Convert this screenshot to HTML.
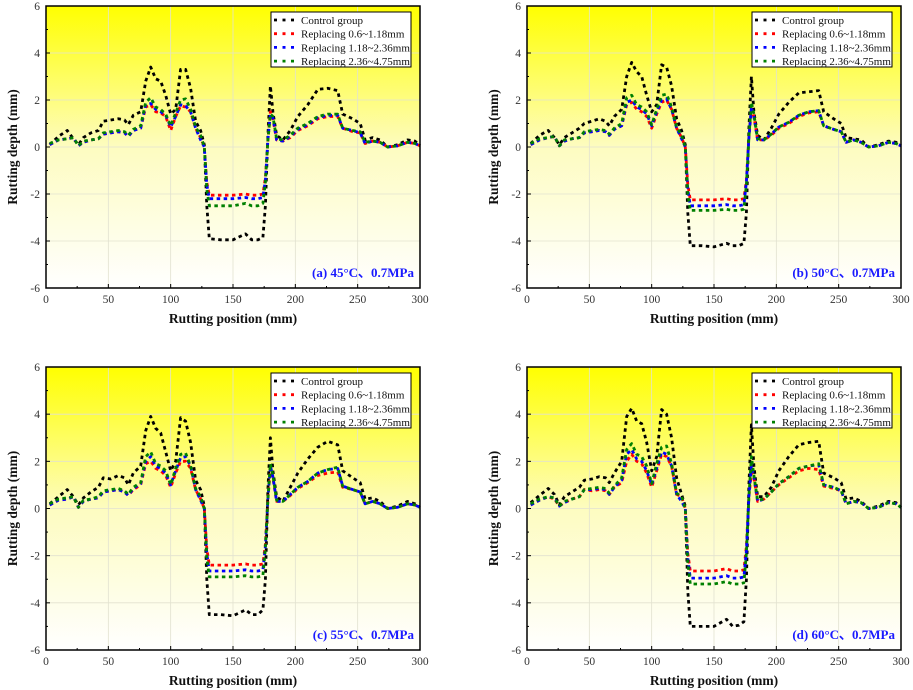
<!DOCTYPE html>
<html><head><meta charset="utf-8">
<style>
html,body{margin:0;padding:0;background:#fff;}
svg{display:block;font-family:"Liberation Serif",serif;}
</style></head>
<body>
<svg id="chart" width="913" height="690" viewBox="0 0 913 690" xmlns="http://www.w3.org/2000/svg">
<defs>
<linearGradient id="bg" x1="0" y1="0" x2="0" y2="1">
<stop offset="0" stop-color="#ffff00"/>
<stop offset="0.5" stop-color="#fdfcc0"/>
<stop offset="1" stop-color="#ffffff"/>
</linearGradient>
</defs>
</svg>
<script>
const positions=[3,10,17,22,26,30,36,42,46,52,58,63,66,70,76,80,84,88,92,96,100,104,108,112,116,120,124,127,129,131,140,150,160,165,170,174,176,178,180,182,185,190,196,202,210,218,226,234,238,246,252,256,262,268,274,282,290,296,300];
const seriesNames=["Control group","Replacing 0.6~1.18mm","Replacing 1.18~2.36mm","Replacing 2.36~4.75mm"];
const xTicks=[0,50,100,150,200,250,300];
const yTicks=[-6,-4,-2,0,2,4,6];
const panelLabels=["(a) 45°C、0.7MPa","(b) 50°C、0.7MPa","(c) 55°C、0.7MPa","(d) 60°C、0.7MPa"];
const ctrlA=[0.1,0.45,0.7,0.35,0.1,0.4,0.6,0.7,1.1,1.15,1.2,1.15,0.95,1.35,1.5,2.8,3.4,2.9,2.8,2.2,1.4,1.6,3.3,3.3,2.5,1.1,0.7,0.1,-2.5,-3.9,-3.95,-3.95,-3.7,-3.95,-3.95,-3.85,-2.5,0.5,2.6,1.5,0.5,0.3,0.7,1.3,1.8,2.45,2.5,2.4,1.4,1.2,1.0,0.3,0.4,0.3,0.0,0.1,0.3,0.25,0.05];
const redA=[0.1,0.3,0.35,0.4,0.05,0.2,0.3,0.35,0.55,0.6,0.65,0.6,0.45,0.7,0.8,1.7,1.8,1.5,1.45,1.3,0.7,1.3,1.75,1.7,1.5,0.8,0.4,0,-1.5,-2.05,-2.05,-2.05,-2.0,-2.05,-2.05,-2.0,-1.3,0.3,1.5,1.2,0.3,0.25,0.4,0.7,0.9,1.2,1.3,1.3,0.8,0.65,0.6,0.15,0.25,0.2,0,0.05,0.2,0.15,0.05];
const blueA=[0.1,0.3,0.35,0.4,0.05,0.2,0.3,0.35,0.55,0.6,0.65,0.6,0.45,0.7,0.8,1.8,1.85,1.6,1.5,1.35,0.85,1.3,1.8,1.75,1.5,0.8,0.3,0,-1.6,-2.2,-2.2,-2.2,-2.15,-2.2,-2.2,-2.15,-1.4,0.3,1.4,1.25,0.3,0.25,0.45,0.75,0.95,1.25,1.35,1.35,0.8,0.7,0.6,0.15,0.25,0.2,0,0.05,0.2,0.15,0.05];
const greenA=[0.15,0.3,0.35,0.4,0.05,0.25,0.3,0.35,0.6,0.65,0.7,0.65,0.5,0.75,0.9,1.9,2.1,1.7,1.6,1.4,0.9,1.45,2.0,2.05,1.6,0.85,0.5,0,-1.8,-2.5,-2.5,-2.5,-2.4,-2.5,-2.5,-2.4,-1.5,0.3,1.4,1.3,0.35,0.3,0.5,0.8,1.0,1.3,1.4,1.4,0.8,0.7,0.65,0.2,0.25,0.2,0,0.05,0.2,0.15,0.05];
const ctrlB=[0.15,0.5,0.7,0.4,0.1,0.4,0.6,0.8,1.0,1.1,1.2,1.1,0.9,1.3,1.6,3.0,3.6,3.2,3.0,2.2,1.5,1.8,3.5,3.4,2.6,1.2,0.7,0.1,-2.8,-4.2,-4.2,-4.25,-4.1,-4.2,-4.2,-4.1,-2.8,0.8,3.0,1.5,0.5,0.3,0.8,1.4,1.9,2.3,2.35,2.4,1.5,1.2,1.0,0.4,0.35,0.3,0.0,0.1,0.25,0.2,0.05];
const redB=[0.1,0.3,0.4,0.45,0.05,0.25,0.35,0.4,0.6,0.65,0.7,0.65,0.5,0.75,0.9,1.8,1.9,1.6,1.5,1.3,0.8,1.4,1.9,2.0,1.6,0.8,0.4,0,-1.6,-2.25,-2.25,-2.25,-2.2,-2.25,-2.25,-2.2,-1.4,0.4,1.6,1.3,0.3,0.3,0.5,0.8,1.0,1.3,1.45,1.5,0.9,0.75,0.65,0.2,0.3,0.2,0,0.05,0.2,0.15,0.05];
const blueB=[0.1,0.3,0.4,0.45,0.05,0.25,0.35,0.4,0.6,0.65,0.7,0.65,0.5,0.75,0.9,1.9,2.0,1.7,1.6,1.4,0.9,1.5,2.0,2.05,1.6,0.8,0.35,0,-1.8,-2.5,-2.5,-2.5,-2.45,-2.5,-2.5,-2.45,-1.5,0.4,1.7,1.3,0.3,0.3,0.55,0.85,1.05,1.35,1.5,1.55,0.9,0.75,0.65,0.2,0.3,0.2,0,0.05,0.2,0.15,0.05];
const greenB=[0.15,0.35,0.4,0.45,0.05,0.3,0.35,0.4,0.65,0.7,0.75,0.7,0.55,0.8,1.0,2.1,2.2,1.8,1.7,1.5,0.95,1.6,2.2,2.25,1.7,0.85,0.5,0,-2.0,-2.7,-2.7,-2.7,-2.65,-2.7,-2.7,-2.65,-1.6,0.4,1.9,1.4,0.35,0.3,0.55,0.85,1.05,1.35,1.5,1.55,0.9,0.75,0.65,0.2,0.3,0.2,0,0.05,0.2,0.15,0.05];
const ctrlC=[0.2,0.5,0.8,0.5,0.15,0.45,0.7,0.9,1.3,1.25,1.4,1.3,1.0,1.5,1.8,3.3,3.9,3.4,3.2,2.4,1.6,2.0,3.85,3.7,2.8,1.2,0.8,0.1,-3.0,-4.5,-4.5,-4.55,-4.3,-4.5,-4.5,-4.3,-3.0,0.8,3.0,1.6,0.5,0.3,0.9,1.5,2.1,2.6,2.85,2.7,1.6,1.3,1.1,0.4,0.45,0.3,0.0,0.1,0.3,0.2,0.05];
const redC=[0.15,0.35,0.4,0.5,0.05,0.3,0.4,0.45,0.7,0.75,0.8,0.7,0.55,0.8,1.0,1.9,2.0,1.7,1.6,1.4,0.9,1.5,2.0,2.0,1.7,0.8,0.4,0,-1.7,-2.4,-2.4,-2.4,-2.35,-2.4,-2.4,-2.35,-1.5,0.4,1.7,1.3,0.3,0.3,0.55,0.85,1.1,1.4,1.5,1.55,0.9,0.8,0.7,0.2,0.3,0.2,0,0.05,0.2,0.15,0.05];
const blueC=[0.15,0.35,0.4,0.5,0.05,0.3,0.4,0.45,0.7,0.75,0.8,0.7,0.55,0.85,1.05,2.0,2.2,1.8,1.7,1.5,1.0,1.6,2.15,2.2,1.8,0.8,0.35,0,-1.9,-2.65,-2.65,-2.65,-2.6,-2.65,-2.65,-2.6,-1.6,0.4,1.8,1.35,0.3,0.3,0.6,0.9,1.15,1.5,1.65,1.7,0.95,0.8,0.7,0.2,0.3,0.2,0,0.05,0.2,0.15,0.05];
const greenC=[0.2,0.4,0.45,0.5,0.05,0.35,0.4,0.5,0.75,0.8,0.85,0.75,0.6,0.9,1.1,2.2,2.4,1.9,1.8,1.6,1.0,1.7,2.3,2.35,1.8,0.85,0.5,0,-2.1,-2.9,-2.9,-2.9,-2.85,-2.9,-2.9,-2.85,-1.7,0.4,1.9,1.4,0.35,0.3,0.6,0.9,1.15,1.5,1.65,1.75,0.95,0.8,0.7,0.2,0.3,0.2,0,0.05,0.2,0.15,0.05];
const ctrlD=[0.25,0.55,0.85,0.6,0.15,0.5,0.7,0.9,1.2,1.25,1.35,1.3,1.1,1.5,2.0,3.9,4.25,3.7,3.6,2.8,1.6,2.2,4.2,4.0,3.0,1.3,0.6,0.1,-3.5,-5.0,-5.0,-5.0,-4.7,-5.0,-4.95,-4.8,-3.0,1.0,3.55,1.8,0.5,0.5,0.9,1.6,2.2,2.7,2.8,2.85,1.5,1.3,1.1,0.4,0.45,0.3,0.0,0.1,0.3,0.25,0.05];
const redD=[0.15,0.35,0.5,0.4,0.1,0.25,0.4,0.5,0.8,0.75,0.8,0.75,0.6,0.9,1.1,2.0,2.3,2.0,1.9,1.5,0.9,1.6,2.3,2.2,1.8,0.6,0.5,0,-1.9,-2.65,-2.65,-2.65,-2.55,-2.65,-2.65,-2.6,-1.6,0.5,1.5,1.3,0.3,0.4,0.7,1.0,1.3,1.6,1.7,1.65,0.95,0.85,0.75,0.2,0.3,0.25,0,0.05,0.25,0.2,0.05];
const blueD=[0.15,0.35,0.5,0.45,0.1,0.25,0.4,0.5,0.8,0.8,0.85,0.8,0.6,0.9,1.2,2.3,2.5,2.1,2.0,1.6,1.0,1.7,2.4,2.3,1.8,0.6,0.3,0,-2.1,-2.95,-2.95,-2.95,-2.85,-2.95,-2.95,-2.9,-1.8,0.5,1.8,1.35,0.3,0.4,0.7,1.05,1.35,1.7,1.8,1.85,1.0,0.9,0.75,0.2,0.3,0.25,0,0.05,0.25,0.2,0.05];
const greenD=[0.2,0.4,0.5,0.45,0.1,0.3,0.4,0.5,0.8,0.85,0.9,0.85,0.65,0.95,1.3,2.5,2.75,2.3,2.2,1.8,1.05,1.9,2.6,2.65,1.9,0.65,0.5,0,-2.3,-3.2,-3.2,-3.2,-3.1,-3.2,-3.2,-3.15,-1.9,0.5,2.2,1.4,0.35,0.4,0.7,1.05,1.35,1.7,1.8,1.9,1.0,0.9,0.75,0.2,0.3,0.25,0,0.05,0.25,0.2,0.05];

const panelSeries=[[ctrlA,redA,blueA,greenA],[ctrlB,redB,blueB,greenB],[ctrlC,redC,blueC,greenC],[ctrlD,redD,blueD,greenD]];
const colors=["#000000","#ff0000","#0000ff","#008000"];
const boxes=[{l:46,r:420,t:6,b:288,id:'a'},{l:527,r:901,t:6,b:288,id:'b'},{l:46,r:420,t:367,b:650,id:'c'},{l:527,r:901,t:367,b:650,id:'d'}];
const NS="http://www.w3.org/2000/svg";
const svg=document.getElementById('chart');
function mk(tag,attrs,parent){const e=document.createElementNS(NS,tag);for(const k in attrs)e.setAttribute(k,attrs[k]);(parent||svg).appendChild(e);return e;}

boxes.forEach((B,pi)=>{
  const X=v=>B.l+(v-0)/300*(B.r-B.l);
  const Y=v=>B.b-(v+6)/12*(B.b-B.t);
  const g=mk('g',{});
  
  
  const bg=mk('rect',{x:B.l,y:B.t,width:B.r-B.l,height:B.b-B.t,fill:'url(#bg)'},g);
  
  
  xTicks.forEach(t=>{
    const gl=mk('line',{x1:X(t),x2:X(t),y1:B.t,y2:B.b,stroke:'#e2e2d0','stroke-width':0.8},g);
    
    
    const tk=mk('line',{x1:X(t),x2:X(t),y1:B.b,y2:B.b-4,stroke:'#000','stroke-width':1},g);
    
    
    const lb=mk('text',{x:X(t),y:B.b+15,'text-anchor':'middle','font-size':11.5,fill:'#333'},g);
    lb.textContent=t;
    
    
    if(t<300){const mt=mk('line',{x1:X(t+25),x2:X(t+25),y1:B.b,y2:B.b-2,stroke:'#000','stroke-width':1},g);
      
      }
  });
  yTicks.forEach(t=>{
    const gl=mk('line',{x1:B.l,x2:B.r,y1:Y(t),y2:Y(t),stroke:'#e2e2d0','stroke-width':0.8},g);
    
    
    const tk=mk('line',{x1:B.l,x2:B.l+4,y1:Y(t),y2:Y(t),stroke:'#000','stroke-width':1},g);
    
    
    const lb=mk('text',{x:B.l-6,y:Y(t)+4,'text-anchor':'end','font-size':11.5,fill:'#333'},g);
    lb.textContent=t;
    
    
    if(t<6){const mt=mk('line',{x1:B.l,x2:B.l+2,y1:Y(t+1),y2:Y(t+1),stroke:'#000','stroke-width':1},g);
      
      }
  });
  panelSeries[pi].forEach((arr,si)=>{
    const d=arr.map((v,i)=>(i?'L':'M')+X(positions[i]).toFixed(1)+','+Y(v).toFixed(1)).join(' ');
    const p=mk('path',{d:d,fill:'none',stroke:colors[si],'stroke-width':2.8,'stroke-dasharray':'3.5 3.5','stroke-linejoin':'round'},g);
    
    
  });
  const fr=mk('rect',{x:B.l,y:B.t,width:B.r-B.l,height:B.b-B.t,fill:'none',stroke:'#000','stroke-width':1.5},g);
  
  
  const lg=mk('g',{},g);
  
  
  const lx=B.l+225,ly=B.t+6;
  mk('rect',{x:lx,y:ly,width:140,height:55,fill:'#fff',stroke:'#000','stroke-width':1},lg);
  seriesNames.forEach((n,si)=>{
    const yy=ly+8+si*13.7;
    const e=mk('g',{},lg);
    
    
    mk('line',{x1:lx+3,x2:lx+28,y1:yy,y2:yy,stroke:colors[si],'stroke-width':2.8,'stroke-dasharray':'3 5.5'},e);
    const t=mk('text',{x:lx+30,y:yy+4,'font-size':11,fill:'#111'},e);
    t.textContent=n;
  });
  const pl=mk('text',{x:B.r-6,y:B.b-11,'text-anchor':'end','font-size':13,'font-weight':'bold',fill:'#1a1aff'},g);
  pl.textContent=panelLabels[pi];
  
  
  const xt=mk('text',{x:(B.l+B.r)/2,y:B.b+35,'text-anchor':'middle','font-size':13.5,'font-weight':'bold',fill:'#111'},g);
  xt.textContent='Rutting position (mm)';
  
  
  const cy=(B.t+B.b)/2, cx=B.l-29;
  const yt=mk('text',{x:cx,y:cy,'text-anchor':'middle','font-size':13.5,'font-weight':'bold',fill:'#111',transform:`rotate(-90 ${cx} ${cy})`},g);
  yt.textContent='Rutting depth (mm)';
  
  
});
</script>
</body></html>
